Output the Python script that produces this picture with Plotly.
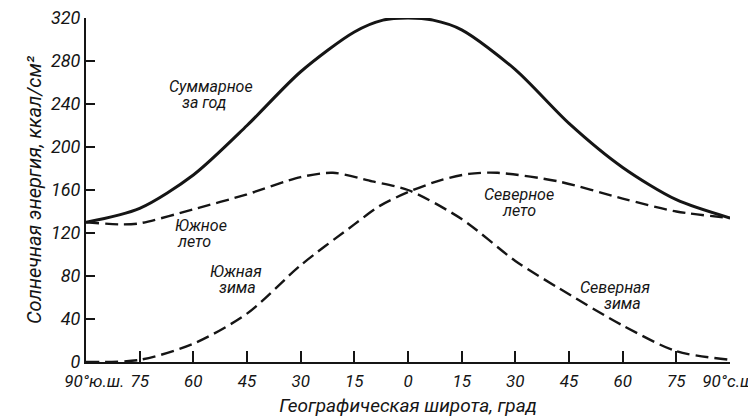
import plotly.graph_objects as go

# ---- data ------------------------------------------------------------------

# annual total (solid)
total_lat = [-90, -75, -60, -45, -30, -15, -7, 0, 7, 15, 30, 45, 60, 75, 90]
total_val = [130, 143, 174, 220, 270, 307, 318, 320, 318, 309, 272, 222, 181, 151, 134]

# southern summer -> northern winter (dashed)
s_summer_lat = [-90, -80, -75, -60, -45, -30, -21, -10, 0, 15, 30, 42, 60, 75, 90]
s_summer_val = [130, 128, 129, 142, 156, 172, 176, 168, 160, 133, 94, 69, 34, 10, 2]

# southern winter -> northern summer (dashed)
s_winter_lat = [-90, -75, -60, -45, -30, -15, -8, 0, 9, 17, 25, 42, 60, 75, 90]
s_winter_val = [0, 2, 17, 45, 90, 128, 145, 158, 169, 175, 176, 168, 152, 140, 134]

x_tickvals = [-90, -75, -60, -45, -30, -15, 0, 15, 30, 45, 60, 75, 90]
x_ticktext = ["\u00a0" * 4 + "90°ю.ш.", "75", "60", "45", "30", "15", "0",
              "15", "30", "45", "60", "75", "90°с.ш."]
y_tickvals = [0, 40, 80, 120, 160, 200, 240, 280, 320]

# curve labels, one entry per text line: (text, lat, value)
labels = [
    ("Суммарное", -67.4, 256),
    ("за год", -63.7, 241),
    ("Южное", -65.7, 127),
    ("лето", -65.1, 112),
    ("Южная", -55.9, 84),
    ("зима", -53.4, 69),
    ("Северное", 20.7, 156),
    ("лето", 25.7, 141),
    ("Северная", 47.5, 69),
    ("зима", 54.2, 54),
]

INK = "#151515"
FONT = "Roboto, DejaVu Sans, sans-serif"

fig = go.Figure()

dash = "13px,6px"
fig.add_trace(go.Scatter(x=s_summer_lat, y=s_summer_val, mode="lines",
                         line=dict(color=INK, width=2.4, dash=dash,
                                   shape="spline", smoothing=0.8)))
fig.add_trace(go.Scatter(x=s_winter_lat, y=s_winter_val, mode="lines",
                         line=dict(color=INK, width=2.4, dash=dash,
                                   shape="spline", smoothing=0.8)))
fig.add_trace(go.Scatter(x=total_lat, y=total_val, mode="lines",
                         line=dict(color=INK, width=3,
                                   shape="spline", smoothing=0.8)))

for text, x, y in labels:
    fig.add_annotation(x=x, y=y, text=f"<i>{text}</i>", showarrow=False,
                       font=dict(family=FONT, size=16, color=INK),
                       xanchor="left", yanchor="middle")

fig.update_xaxes(
    range=[-90, 90],
    tickvals=x_tickvals,
    ticktext=[f"<i>{t}</i>" for t in x_ticktext],
    tickangle=0,
    ticks="inside", ticklen=11, tickwidth=1.5, tickcolor=INK,
    showline=True, linecolor=INK, linewidth=2,
    showgrid=False, zeroline=False,
    automargin=False,
    ticklabelstandoff=3, ticklabeloverflow="allow",
    tickfont=dict(family=FONT, size=17, color=INK),
    title=dict(text="<i>Географическая широта, град</i>",
               font=dict(family=FONT, size=19, color=INK), standoff=8),
)
fig.update_yaxes(
    range=[0, 320],
    tickvals=y_tickvals,
    ticktext=[f"<i>{v}</i>" for v in y_tickvals],
    ticks="inside", ticklen=9, tickwidth=2, tickcolor=INK,
    showline=True, linecolor=INK, linewidth=2,
    showgrid=False, zeroline=False,
    automargin=False,
    ticklabeloverflow="allow",
    tickfont=dict(family=FONT, size=18, color=INK),
    title=dict(text="<i>Солнечная энергия, ккал/см²</i>",
               font=dict(family=FONT, size=20, color=INK), standoff=4),
)

# page body has an 8px margin, so the figure is sized to fit inside it
fig.update_layout(
    width=748, height=410,
    margin=dict(l=78, r=26, t=10, b=56),
    paper_bgcolor="white", plot_bgcolor="white",
    showlegend=False,
)

fig.write_html("out.html")
